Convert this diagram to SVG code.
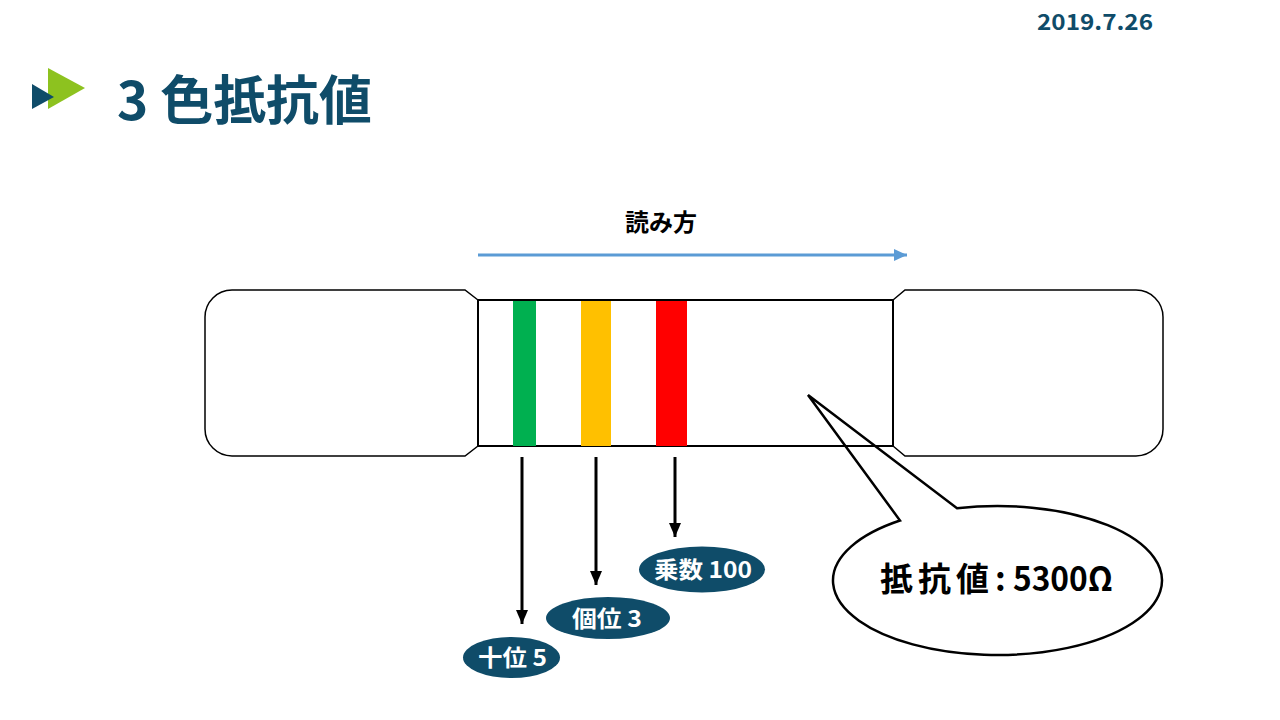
<svg xmlns="http://www.w3.org/2000/svg" width="1280" height="720" viewBox="0 0 1280 720">
  <defs>
    <style>
      .t { font-family: "Noto Sans CJK JP", "Noto Sans", sans-serif; font-weight: bold; }
      .teal { fill: #0f4c69; }
      .cap { fill: #ffffff; stroke: #000000; stroke-width: 1.5; }
      .lbl { fill: #ffffff; font-size: 23px; }
      .conn { stroke: #000000; stroke-width: 3; fill: none; }
    </style>
    <marker id="ah" markerUnits="userSpaceOnUse" markerWidth="14" markerHeight="14" viewBox="0 0 14 14" refX="14" refY="7" orient="auto">
      <path d="M0,1 L14,7 L0,13 Z" fill="#000000"/>
    </marker>
    <marker id="ahb" markerUnits="userSpaceOnUse" markerWidth="13" markerHeight="14" viewBox="0 0 13 14" refX="13" refY="7" orient="auto">
      <path d="M0,1 L13,7 L0,13 Z" fill="#5b9bd5"/>
    </marker>
  </defs>
  <rect width="1280" height="720" fill="#ffffff"/>

  <g id="header">
    <polygon points="48,68 85,88 48,109" fill="#8dc21f"/>
    <polygon points="32,84 54,97 32,109" fill="#0f4c69"/>
    <text class="t teal" x="117" y="120" font-size="53" textLength="255" lengthAdjust="spacing">3 色抵抗値</text>
    <text class="t teal" x="1037" y="30" font-size="22" textLength="116" lengthAdjust="spacingAndGlyphs">2019.7.26</text>
  </g>

  <g id="resistor">
    <path id="left-cap" class="cap" d="M232,290 L465,290 L478,300 L478,446 L465,456 L232,456 A27,27 0 0 1 205,429 L205,317 A27,27 0 0 1 232,290 Z"/>
    <path id="right-cap" class="cap" d="M905,290 L1136,290 A27,27 0 0 1 1163,317 L1163,429 A27,27 0 0 1 1136,456 L905,456 L893,446 L893,300 Z"/>
    <rect id="body" x="478" y="300" width="415" height="146" fill="#ffffff" stroke="#000000" stroke-width="2"/>
    <rect id="band-green" x="513" y="301" width="23" height="145" fill="#00b050"/>
    <rect id="band-yellow" x="581" y="301" width="30" height="145" fill="#ffc000"/>
    <rect id="band-red" x="656" y="301" width="31" height="145" fill="#ff0000"/>
  </g>

  <g id="reading-direction">
    <text class="t" x="661" y="231" font-size="24" text-anchor="middle" fill="#000000">読み方</text>
  </g>

  <g id="connectors">
    <line x1="478" y1="255" x2="907" y2="255" stroke="#5b9bd5" stroke-width="3" marker-end="url(#ahb)"/>
    <line class="conn" x1="522" y1="457" x2="522" y2="624" marker-end="url(#ah)"/>
    <line class="conn" x1="596" y1="457" x2="596" y2="585" marker-end="url(#ah)"/>
    <line class="conn" x1="675" y1="457" x2="675" y2="537" marker-end="url(#ah)"/>
  </g>

  <g id="label-multiplier">
    <ellipse cx="702" cy="569.5" rx="63" ry="23" class="teal"/>
    <text class="t lbl" x="654" y="578" textLength="98" lengthAdjust="spacingAndGlyphs">乗数 100</text>
  </g>
  <g id="label-ones">
    <ellipse cx="608" cy="618" rx="62" ry="21" class="teal"/>
    <text class="t lbl" x="572" y="627" textLength="70" lengthAdjust="spacingAndGlyphs">個位 3</text>
  </g>
  <g id="label-tens">
    <ellipse cx="511.5" cy="657.5" rx="48.5" ry="20.5" class="teal"/>
    <text class="t lbl" x="478" y="666" textLength="69" lengthAdjust="spacingAndGlyphs">十位 5</text>
  </g>

  <g id="callout">
    <path d="M957,508.3 A164.5,74.5 0 1 1 900,520.5 L808,395 Z" fill="none" stroke="#000000" stroke-width="2.5" stroke-linejoin="miter"/>
    <text class="t" y="591" font-size="33" fill="#000000"><tspan x="880" letter-spacing="5">抵抗値</tspan><tspan x="995">:</tspan><tspan x="1013" textLength="100" lengthAdjust="spacingAndGlyphs">5300Ω</tspan></text>
  </g>
</svg>
